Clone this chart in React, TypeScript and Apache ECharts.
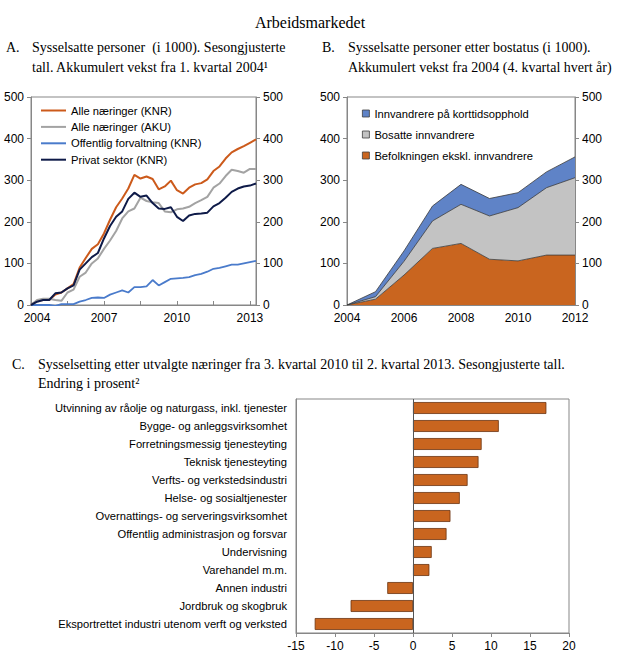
import React, { useEffect, useRef } from "react";
import * as echarts from "echarts";

// ---------- Panel A ----------
const quartersA = [
  "2004K1", "2004K2", "2004K3", "2004K4",
  "2005K1", "2005K2", "2005K3", "2005K4",
  "2006K1", "2006K2", "2006K3", "2006K4",
  "2007K1", "2007K2", "2007K3", "2007K4",
  "2008K1", "2008K2", "2008K3", "2008K4",
  "2009K1", "2009K2", "2009K3", "2009K4",
  "2010K1", "2010K2", "2010K3", "2010K4",
  "2011K1", "2011K2", "2011K3", "2011K4",
  "2012K1", "2012K2", "2012K3", "2012K4",
  "2013K1", "2013K2",
];
const alleKNR = [
  0, 10, 12, 12, 25, 30, 40, 50, 90, 113, 135, 146, 172, 205, 235, 256, 280, 313, 304, 309,
  303, 278, 285, 299, 276, 268, 282, 290, 293, 302, 322, 333, 352, 367, 375, 382, 390, 398,
];
const alleAKU = [
  0, 12, 15, 15, 12, 10, 30, 37, 68, 78, 100, 112, 135, 155, 178, 208, 225, 232, 258, 250,
  247, 245, 225, 223, 230, 232, 236, 245, 252, 260, 282, 292, 310, 325, 322, 318, 327, 327,
];
const offentlig = [
  0, 0, 0, 0, -2, 2, 2, 2, 8, 12, 17, 18, 17, 25, 30, 35, 30, 43, 43, 45,
  60, 47, 55, 63, 64, 65, 67, 72, 75, 80, 87, 89, 93, 97, 97, 100, 103, 106,
];
const privat = [
  0, 8, 12, 12, 28, 30, 40, 47, 85, 100, 115, 125, 160, 190, 212, 225, 255, 270, 260, 263,
  245, 232, 231, 235, 212, 202, 215, 219, 220, 222, 237, 245, 258, 272, 280, 285, 287, 292,
];
const namesA = ["Alle næringer (KNR)", "Alle næringer (AKU)", "Offentlig forvaltning (KNR)", "Privat sektor (KNR)"];

// ---------- Panel B ----------
const yearsB = ["2004", "2005", "2006", "2007", "2008", "2009", "2010", "2011", "2012"];
const befolkningen = [0, 14, 72, 136, 148, 110, 106, 120, 120];
const bosatte = [0, 6, 33, 66, 94, 104, 128, 162, 186];
const korttid = [0, 12, 25, 36, 48, 42, 36, 38, 50];
const namesB = ["Innvandrere på korttidsopphold", "Bosatte innvandrere", "Befolkningen ekskl. innvandrere"];

// ---------- Panel C ----------
const naeringer = [
  "Utvinning av råolje og naturgass, inkl. tjenester",
  "Bygge- og anleggsvirksomhet",
  "Forretningsmessig tjenesteyting",
  "Teknisk tjenesteyting",
  "Verfts- og verkstedsindustri",
  "Helse- og sosialtjenester",
  "Overnattings- og serveringsvirksomhet",
  "Offentlig administrasjon og forsvar",
  "Undervisning",
  "Varehandel m.m.",
  "Annen industri",
  "Jordbruk og skogbruk",
  "Eksportrettet industri utenom verft og verksted",
];
const endring = [17.1, 11.0, 8.8, 8.4, 7.0, 6.0, 4.8, 4.3, 2.4, 2.1, -3.3, -8.0, -12.6];

const SANS = "Liberation Sans";
const SERIF = "Liberation Serif";
const AXIS_GRAY = "#878787";
const ORANGE = "#C9651F";
const SMALL = 11.2;

export default function App() {
  const ref = useRef<HTMLDivElement>(null);
  useEffect(() => {
    if (!ref.current) return;
    const chart = echarts.init(ref.current, null, { renderer: "svg" });

    const axisLbl = { color: "#000", fontFamily: SANS, fontSize: 12 };
    const valAxis = (gridIndex: number, pos: string) => ({
      type: "value",
      gridIndex,
      position: pos,
      min: 0,
      max: 500,
      interval: 100,
      axisLine: { show: true, lineStyle: { color: AXIS_GRAY } },
      axisTick: { show: true, inside: false, length: 4, lineStyle: { color: AXIS_GRAY } },
      axisLabel: { ...axisLbl, margin: 7 },
      splitLine: { show: false },
    });

    const serifText = (x: number, y: number, text: string, size = 14, align = "left") => ({
      type: "text",
      x,
      y,
      style: {
        text,
        fontFamily: SERIF,
        fontSize: size,
        fill: "#000",
        textAlign: align,
        textVerticalAlign: "middle",
      },
    });

    const legendA = namesA.map((n, i) => ({
      data: [n],
      orient: "vertical",
      left: 41,
      top: 105 + i * 16.4,
      padding: 0,
      icon: "rect",
      itemWidth: 25,
      itemHeight: 2,
      textStyle: { fontFamily: SANS, fontSize: SMALL, color: "#000" },
    }));
    const legendB = namesB.map((n, i) => ({
      data: [n],
      orient: "vertical",
      left: 362,
      top: 108 + i * 21,
      padding: 0,
      icon: "rect",
      itemWidth: 7,
      itemHeight: 7,
      itemStyle: { borderColor: "#404040", borderWidth: 0.8 },
      textStyle: { fontFamily: SANS, fontSize: SMALL, color: "#000" },
    }));

    const lineSeries = (name: string, data: number[], color: string, width: number) => ({
      type: "line",
      name,
      data,
      xAxisIndex: 0,
      yAxisIndex: 0,
      symbol: "none",
      lineStyle: { color, width },
      itemStyle: { color },
    });

    const areaSeries = (name: string, data: number[], color: string) => ({
      type: "line",
      name,
      data,
      stack: "b",
      xAxisIndex: 1,
      yAxisIndex: 2,
      symbol: "none",
      lineStyle: { color: "#3a3a3a", width: 0.8 },
      areaStyle: { color, opacity: 1 },
      itemStyle: { color },
    });

    chart.setOption({
      animation: false,
      backgroundColor: "#fff",
      textStyle: { fontFamily: SANS },
      legend: [...legendA, ...legendB],
      grid: [
        { left: 31, top: 97, width: 225, height: 208, show: true, borderColor: AXIS_GRAY, borderWidth: 1 },
        { left: 347, top: 97, width: 228, height: 208, show: true, borderColor: AXIS_GRAY, borderWidth: 1 },
        { left: 296, top: 399, width: 273, height: 234, show: true, borderColor: AXIS_GRAY, borderWidth: 1 },
      ],
      xAxis: [
        {
          type: "category",
          gridIndex: 0,
          data: quartersA,
          boundaryGap: false,
          axisLine: { lineStyle: { color: AXIS_GRAY } },
          axisTick: {
            inside: true,
            length: 4,
            interval: (i: number) => i % 6 === 0,
            lineStyle: { color: AXIS_GRAY },
          },
          axisLabel: {
            ...axisLbl,
            margin: 7,
            interval: (i: number) => i % 12 === 0,
            formatter: (v: string, i: number) => (i === 0 ? "{first|" + v.slice(0, 4) + "}" : v.slice(0, 4)),
            rich: { first: { ...axisLbl, padding: [0, 0, 0, 12] } },
          },
        },
        {
          type: "category",
          gridIndex: 1,
          data: yearsB,
          boundaryGap: false,
          axisLine: { lineStyle: { color: AXIS_GRAY } },
          axisTick: { inside: true, length: 4, interval: 0, lineStyle: { color: AXIS_GRAY } },
          axisLabel: { ...axisLbl, margin: 7, interval: 1 },
        },
        {
          type: "value",
          gridIndex: 2,
          min: -15,
          max: 20,
          interval: 5,
          axisLine: { show: true, lineStyle: { color: AXIS_GRAY } },
          axisTick: { show: true, inside: false, length: 4, lineStyle: { color: AXIS_GRAY } },
          axisLabel: { ...axisLbl, margin: 7 },
          splitLine: { show: false },
        },
      ],
      yAxis: [
        valAxis(0, "left"),
        valAxis(0, "right"),
        valAxis(1, "left"),
        valAxis(1, "right"),
        {
          type: "category",
          gridIndex: 2,
          data: naeringer,
          inverse: true,
          axisLine: { show: true, onZero: false, lineStyle: { color: AXIS_GRAY } },
          axisTick: { show: false },
          axisLabel: { color: "#000", fontFamily: SANS, fontSize: SMALL, margin: 9 },
        },
      ],
      series: [
        lineSeries(namesA[0], alleKNR, "#CC5A1B", 2),
        lineSeries(namesA[1], alleAKU, "#A3A3A3", 2),
        lineSeries(namesA[2], offentlig, "#4A7BCB", 1.8),
        lineSeries(namesA[3], privat, "#0E1A48", 2),
        areaSeries(namesB[2], befolkningen, ORANGE),
        areaSeries(namesB[1], bosatte, "#C3C3C3"),
        areaSeries(namesB[0], korttid, "#5F83C7"),
        {
          type: "bar",
          name: "Endring",
          data: endring,
          xAxisIndex: 2,
          yAxisIndex: 4,
          barCategoryGap: "34%",
          itemStyle: { color: ORANGE, borderColor: "#6b3310", borderWidth: 0.8 },
          markLine: {
            silent: true,
            symbol: ["none", "none"],
            label: { show: false },
            lineStyle: { color: "#555", width: 1, type: "solid" },
            data: [{ xAxis: 0 }],
          },
        },
      ],
      graphic: [
        serifText(310, 22, "Arbeidsmarkedet", 16, "center"),
        serifText(6, 47, "A."),
        serifText(32, 47, "Sysselsatte personer  (i 1000). Sesongjusterte"),
        serifText(32, 67, "tall. Akkumulert vekst fra 1. kvartal 2004¹"),
        serifText(322, 47, "B."),
        serifText(348, 47, "Sysselsatte personer etter bostatus (i 1000)."),
        serifText(348, 67, "Akkumulert vekst fra 2004 (4. kvartal hvert år)"),
        serifText(12, 364, "C."),
        serifText(38, 364, "Sysselsetting etter utvalgte næringer fra 3. kvartal 2010 til 2. kvartal 2013. Sesongjusterte tall."),
        serifText(38, 383, "Endring i prosent²"),
      ],
    });

    return () => chart.dispose();
  }, []);

  return (
    <div
      ref={ref}
      style={{ position: "absolute", left: 0, top: 0, width: 620, height: 669 }}
    />
  );
}
